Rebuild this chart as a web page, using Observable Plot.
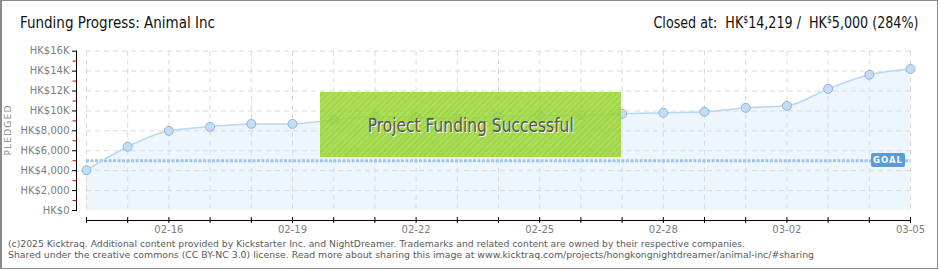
<!DOCTYPE html>
<html>
<head>
<meta charset="utf-8">
<script src="https://cdn.jsdelivr.net/npm/d3@7"></script>
<script src="https://cdn.jsdelivr.net/npm/@observablehq/plot@0.6"></script>
<style>
  body { margin: 0; background: #fff; }
  #wrap { position: relative; width: 940px; height: 270px; overflow: hidden; background: #fff; }
  #wrap svg { position: absolute; left: 0; top: 0; }
  .ov { position: absolute; white-space: nowrap; }
  .cond { font-family: "Liberation Sans Narrow", "DejaVu Sans Condensed", "Roboto", sans-serif; }
  #border { position: absolute; left: 0; top: 0; width: 938px; height: 269px; box-sizing: border-box;
            border: 1px solid #8a8a8a; border-left-width: 2px; pointer-events: none; }
  #title { left: 20px; top: 13px; font-size: 16.5px; color: #111; line-height: 20px; }
  #closed { right: 22px; top: 13px; font-size: 16.5px; color: #111; line-height: 20px; }
  #closed sup { font-size: 10px; vertical-align: 5px; line-height: 0; }
  #success { left: 320px; top: 92px; width: 301px; height: 65px;
             background: rgba(150, 214, 40, 0.82)
               repeating-linear-gradient(135deg, rgba(255,255,255,0.06) 0 2px, rgba(0,0,0,0.03) 2px 4px);
             display: flex; align-items: center; justify-content: center; }
  #success span { font-size: 19px; color: #555; text-shadow: 1px 1px 0 #fff; display: inline-block; }
  #goal { left: 871px; top: 153px; width: 34px; height: 14px; background: #5b9bd6; border-radius: 2px;
          color: #fff; font: bold 8.5px "DejaVu Sans", sans-serif; letter-spacing: 1px; line-height: 14px; text-align: center; }
  #pledged { left: 8px; top: 130px; transform: translate(-50%, -50%) rotate(-90deg);
             font: 9px "DejaVu Sans", sans-serif; letter-spacing: 1.2px; color: #888; }
  .foot { left: 8px; font-family: "DejaVu Sans", sans-serif; font-size: 9.5px; color: #5a5a5a; line-height: 12px; }
</style>
</head>
<body>
<div id="wrap"></div>
<script>
// ---- data ----
const dayIndex = d3.range(21);
const pledged = [4050, 6400, 8000, 8400, 8700, 8700, 9100, 9440, 9370, 9270, 9440,
                 9570, 9570, 9710, 9810, 9910, 10310, 10510, 12220, 13630, 14219];
const goal = 5000;
const xTickIdx = [2, 5, 8, 11, 14, 17, 20];
const xTickLabels = ["02-16", "02-19", "02-22", "02-25", "02-28", "03-02", "03-05"];
const yTicks = [0, 2000, 4000, 6000, 8000, 10000, 12000, 14000, 16000];
const yTickLabels = ["HK$0", "HK$2,000", "HK$4,000", "HK$6,000", "HK$8,000", "HK$10K", "HK$12K", "HK$14K", "HK$16K"];
const yMinorTicks = [1000, 3000, 5000, 7000, 9000, 11000, 13000, 15000];

const data = dayIndex.map((i) => ({ i, v: pledged[i] }));

const chart = Plot.plot({
  width: 940,
  height: 270,
  marginLeft: 86,
  marginRight: 30,
  marginTop: 50.7,
  marginBottom: 60,
  x: { domain: [0, 20], axis: null },
  y: { domain: [0, 16000], axis: null },
  style: { background: "transparent", fontFamily: "DejaVu Sans, sans-serif", fontSize: "10px", color: "#7d7d7d", overflow: "visible" },
  marks: [
    Plot.areaY(data, { x: "i", y: "v", fill: "#edf5fd", curve: "monotone-x" }),
    Plot.gridX(dayIndex, { stroke: "#d9d9d9", strokeOpacity: 1, strokeDasharray: "5,4" }),
    Plot.gridY(yTicks.slice(1), { stroke: "#d9d9d9", strokeOpacity: 1, strokeDasharray: "5,4" }),
    Plot.ruleY([goal], { stroke: "#9ec3ea", strokeWidth: 3, strokeDasharray: "3,1.5" }),
    Plot.line(data, { x: "i", y: "v", stroke: "#b9d7f3", strokeWidth: 1.5, curve: "monotone-x" }),
    Plot.dot(data, { x: "i", y: "v", r: 4.5, fill: "#c3ddf7", stroke: "#93b3d3", strokeWidth: 1 }),
    // y axis
    Plot.ruleX([0], { y1: 0, y2: 16000, dx: -10, stroke: "#000" }),
    Plot.axisY(yMinorTicks, { text: null, label: null, dx: -9.5, tickSize: 4, stroke: "#e00000" }),
    Plot.axisY(yTicks, { label: null, dx: -9, tickSize: 5, tickPadding: 3, stroke: "#000", fill: "#7d7d7d",
      tickFormat: (d) => yTickLabels[yTicks.indexOf(d)] }),
    // x axis
    Plot.ruleY([0], { dy: 10, stroke: "#000" }),
    Plot.axisX(dayIndex, { text: null, label: null, tickSize: 6, dy: 7, stroke: "#000" }),
    Plot.axisX(xTickIdx, { label: null, tickSize: 0, tickPadding: 3, dy: 12, fill: "#7d7d7d",
      tickFormat: (d) => xTickLabels[xTickIdx.indexOf(d)] })
  ]
});

const wrap = document.getElementById("wrap");
wrap.appendChild(chart);

wrap.insertAdjacentHTML("beforeend", `
  <div class="ov cond" id="title">Funding Progress: Animal Inc</div>
  <div class="ov cond" id="closed">Closed at:&nbsp; HK<sup>$</sup>14,219 /&nbsp; HK<sup>$</sup>5,000 (284%)</div>
  <div class="ov" id="pledged">PLEDGED</div>
  <div class="ov" id="success"><span class="cond">Project Funding Successful</span></div>
  <div class="ov" id="goal">GOAL</div>
  <div class="ov foot" id="f1" style="top:238px">(c)2025 Kicktraq. Additional content provided by Kickstarter Inc. and NightDreamer. Trademarks and related content are owned by their respective companies.</div>
  <div class="ov foot" id="f2" style="top:249px">Shared under the creative commons (CC BY-NC 3.0) license. Read more about sharing this image at www.kicktraq.com/projects/hongkongnightdreamer/animal-inc/#sharing</div>
  <div id="border"></div>
`);

function fitX(id, target, origin) {
  const el = document.getElementById(id);
  const w = el.getBoundingClientRect().width;
  el.style.transformOrigin = origin;
  el.style.transform = `scaleX(${target / w})`;
}
fitX("title", 195, "left center");
fitX("closed", 265, "right center");
fitX("f1", 737, "left center");
fitX("f2", 806, "left center");
(function () {
  const s = document.querySelector("#success span");
  const w = s.getBoundingClientRect().width;
  s.style.transform = `scaleX(${206 / w})`;
})();
</script>
</body>
</html>
